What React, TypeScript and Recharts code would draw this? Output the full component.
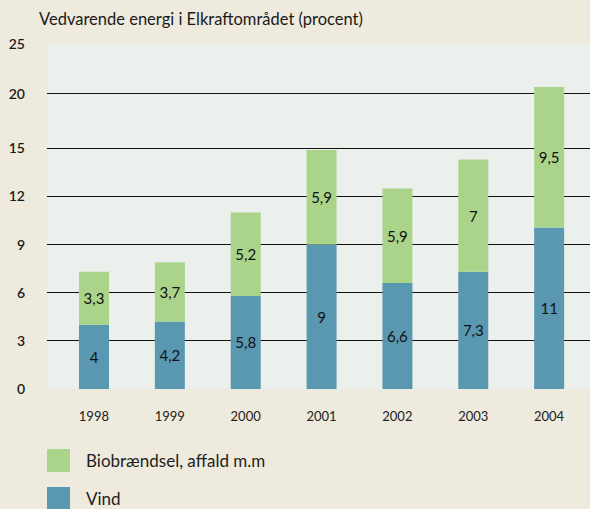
import React from "react";
import { BarChart, Bar, XAxis, YAxis, CartesianGrid, LabelList, Legend } from "recharts";

const years = ["1998", "1999", "2000", "2001", "2002", "2003", "2004"];
// bar heights as drawn in the picture (the 2004 bar is drawn shorter than its printed values)
const vindHeights = [4, 4.2, 5.8, 9, 6.6, 7.3, 10.07];
const bioHeights = [3.3, 3.7, 5.2, 5.9, 5.9, 7, 8.75];
// printed labels
const vindLabels = ["4", "4,2", "5,8", "9", "6,6", "7,3", "11"];
const bioLabels = ["3,3", "3,7", "5,2", "5,9", "5,9", "7", "9,5"];
// y tick positions as drawn, with their printed labels
const yDomain = [0, 21.5];
const yTickValues = [0, 3, 6, 9, 12, 15, 18.4, 21.5];
const yTickLabels = ["0", "3", "6", "9", "12", "15", "20", "25"];
const gridValues = [3, 6, 9, 12, 15, 18.4];

const seriesNames = { bio: "Biobrændsel, affald m.m", vind: "Vind" };
const GREEN = "#aad48a";
const BLUE = "#5a98b1";
const FONT = "Lato, 'Noto Sans', sans-serif";

const data = years.map((y, i) => ({
  year: y,
  vind: vindHeights[i],
  bio: bioHeights[i],
}));

const renderLabel = (labels: string[]) => (props: any) => {
  const { x, y, width, height, index } = props;
  return (
    <text
      x={Number(x) + Number(width) / 2}
      y={Number(y) + Number(height) / 2}
      textAnchor="middle"
      dominantBaseline="central"
      fontSize={15}
      fontFamily={FONT}
      fill="#111"
    >
      {labels[index]}
    </text>
  );
};

const LegendContent = () => (
  <div style={{ height: 65, position: "relative", fontFamily: FONT }}>
    {[
      { c: GREEN, t: seriesNames.bio, top: 5 },
      { c: BLUE, t: seriesNames.vind, top: 43 },
    ].map((r) => (
      <div key={r.t} style={{ position: "absolute", left: 47, top: r.top, display: "flex", alignItems: "center" }}>
        <div style={{ width: 23, height: 23, background: r.c }} />
        <span style={{ marginLeft: 16, fontSize: 17, color: "#1e1e1e", whiteSpace: "nowrap" }}>{r.t}</span>
      </div>
    ))}
  </div>
);

const gridGenerator = (props: any) => {
  const yAxis = props?.yAxis;
  if (yAxis && typeof yAxis.scale === "function") {
    return gridValues.map((v) => yAxis.scale(v));
  }
  const off = props?.offset ?? { top: 44, height: 345 };
  return gridValues.map((v) => off.top + off.height * (1 - (v - yDomain[0]) / (yDomain[1] - yDomain[0])));
};

export default function App() {
  return (
    <div style={{ position: "absolute", left: 0, top: 0, width: 590, height: 509, background: "#eeeadd", overflow: "hidden" }}>
      <div
        style={{
          position: "absolute",
          left: 39,
          top: 9,
          fontFamily: FONT,
          fontSize: 16.5,
          color: "#1a1a1a",
          whiteSpace: "nowrap",
        }}
      >
        Vedvarende energi i Elkraftområdet (procent)
      </div>
      <BarChart
        width={590}
        height={509}
        data={data}
        margin={{ top: 44, right: 0, left: 0, bottom: 0 }}
        barSize={30}
      >
        <CartesianGrid
          vertical={false}
          fill="#ecf0ec"
          fillOpacity={1}
          stroke="#111"
          strokeWidth={1}
          shapeRendering="crispEdges"
          horizontalCoordinatesGenerator={gridGenerator}
        />
        <XAxis
          dataKey="year"
          height={55}
          axisLine={false}
          tickLine={false}
          tickSize={0}
          tickMargin={23}
          padding={{ left: 9, right: 3 }}
          tick={{ fontSize: 13, fontFamily: FONT, fill: "#222" }}
          interval={0}
        />
        <YAxis
          width={47}
          domain={yDomain}
          ticks={yTickValues}
          interval={0}
          axisLine={false}
          tickLine={false}
          tickSize={0}
          tickMargin={22}
          tickFormatter={(v: number) => yTickLabels[yTickValues.indexOf(v)] ?? ""}
          tick={{ fontSize: 14, fontFamily: FONT, fill: "#1a1a1a", fontWeight: 600 }}
        />
        <Legend verticalAlign="bottom" align="left" content={<LegendContent />} wrapperStyle={{ left: 0, width: 590 }} />
        <Bar dataKey="vind" stackId="a" fill={BLUE} isAnimationActive={false} name={seriesNames.vind}>
          <LabelList content={renderLabel(vindLabels)} />
        </Bar>
        <Bar dataKey="bio" stackId="a" fill={GREEN} isAnimationActive={false} name={seriesNames.bio}>
          <LabelList content={renderLabel(bioLabels)} />
        </Bar>
      </BarChart>
    </div>
  );
}
